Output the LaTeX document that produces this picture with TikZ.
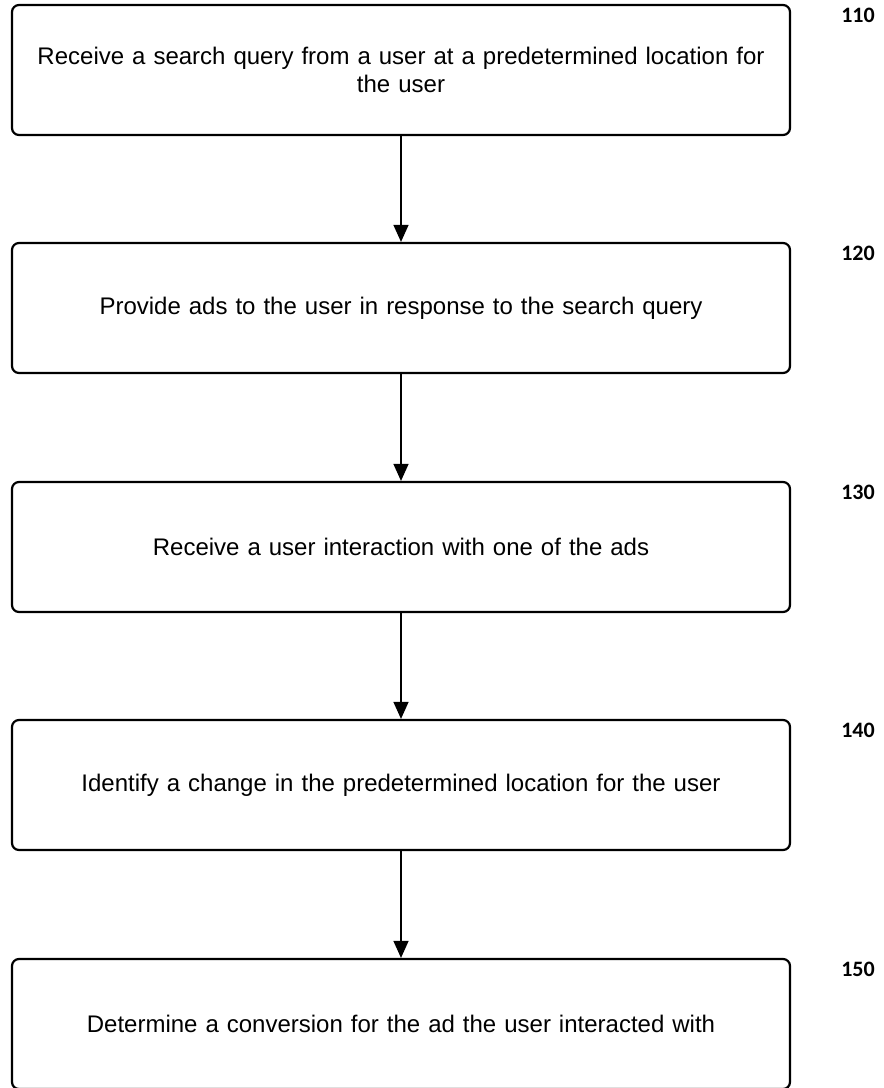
\documentclass[tikz,border=0pt]{standalone}
\usepackage{fontspec}
\setmainfont{Liberation Sans}
\newfontfamily\labfont{Carlito}
\usetikzlibrary{arrows.meta}
\begin{document}
\begin{tikzpicture}[x=1pt,y=-1pt,
  stepbox/.style={draw=black, line width=2.2pt, rounded corners=7pt, minimum width=778pt, minimum height=130pt, inner sep=0pt, align=center, font=\fontsize{24}{28}\selectfont, text width=772pt},
  reflabel/.style={font=\labfont\bfseries\fontsize{22}{26}\selectfont, anchor=center},
  conn/.style={line width=1.4pt, -{Triangle[length=17pt,width=15pt]}}]
\clip (0,0) rectangle (884,1088);
\node[stepbox] (b1) at (401,70) {Receive a search query from a user at a predetermined location for\\the user};
\node[stepbox] (b2) at (401,308) {Provide ads to the user in response to the search query};
\node[stepbox] (b3) at (401,547) {Receive a user interaction with one of the ads};
\node[stepbox] (b4) at (401,785) {Identify a change in the predetermined location for the user};
\node[stepbox] (b5) at (401,1024) {Determine a conversion for the ad the user interacted with};
\node[reflabel] (l1) at (858,15) {110};
\node[reflabel] (l2) at (858,253) {120};
\node[reflabel] (l3) at (858,492) {130};
\node[reflabel] (l4) at (858,730) {140};
\node[reflabel] (l5) at (858,969) {150};
\draw[conn] (b1) -- (b2);
\draw[conn] (b2) -- (b3);
\draw[conn] (b3) -- (b4);
\draw[conn] (b4) -- (b5);
\end{tikzpicture}
\end{document}
